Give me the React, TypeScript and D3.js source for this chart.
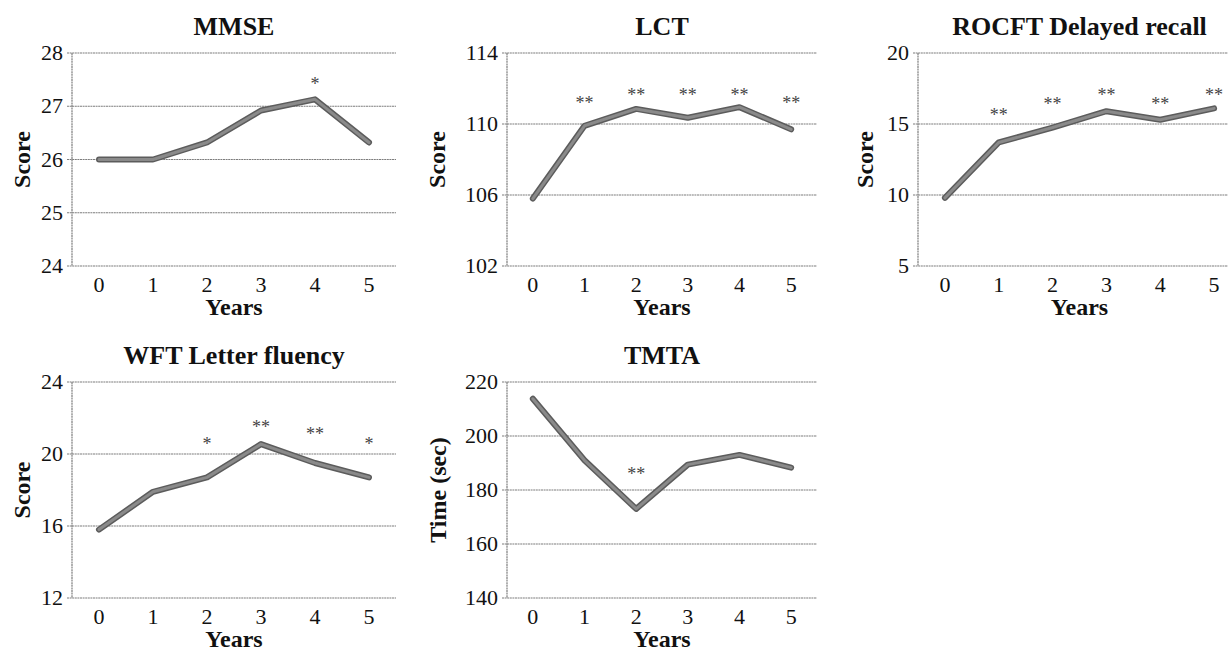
import React, { useEffect, useRef } from "react";
import * as d3 from "d3";

// years on the x axis, shared by all panels
const years = [0, 1, 2, 3, 4, 5];

const mmseValues = [26.0, 26.0, 26.32, 26.92, 27.13, 26.32];
const mmseTicks = [24, 25, 26, 27, 28];
const mmseSig = ["", "", "", "", "*", ""];
const mmseSigLevel = [0, 0, 0, 0, 27.49, 0];

const lctValues = [105.8, 109.9, 110.85, 110.35, 110.95, 109.7];
const lctTicks = [102, 106, 110, 114];
const lctSig = ["", "**", "**", "**", "**", "**"];
const lctSigLevel = [0, 111.4, 111.85, 111.85, 111.85, 111.4];

const rocftValues = [9.8, 13.7, 14.75, 15.9, 15.3, 16.1];
const rocftTicks = [5, 10, 15, 20];
const rocftSig = ["", "**", "**", "**", "**", "**"];
const rocftSigLevel = [0, 15.95, 16.7, 17.3, 16.7, 17.3];

const wftValues = [15.8, 17.9, 18.7, 20.55, 19.5, 18.7];
const wftTicks = [12, 16, 20, 24];
const wftSig = ["", "", "*", "**", "**", "*"];
const wftSigLevel = [0, 0, 20.77, 21.7, 21.32, 20.77];

const tmtaValues = [213.8, 191.0, 173.0, 189.4, 193.0, 188.3];
const tmtaTicks = [140, 160, 180, 200, 220];
const tmtaSig = ["", "", "**", "", "", ""];
const tmtaSigLevel = [0, 0, 187.4, 0, 0, 0];

const panels = [
  { title: "MMSE", yLabel: "Score", values: mmseValues, ticks: mmseTicks, sig: mmseSig, sigLevel: mmseSigLevel, left: 72, right: 396, top: 53, bottom: 266, labelX: 30 },
  { title: "LCT", yLabel: "Score", values: lctValues, ticks: lctTicks, sig: lctSig, sigLevel: lctSigLevel, left: 507, right: 817, top: 53, bottom: 266, labelX: 445 },
  { title: "ROCFT Delayed recall", yLabel: "Score", values: rocftValues, ticks: rocftTicks, sig: rocftSig, sigLevel: rocftSigLevel, left: 918, right: 1241, top: 53, bottom: 266, labelX: 873 },
  { title: "WFT Letter fluency", yLabel: "Score", values: wftValues, ticks: wftTicks, sig: wftSig, sigLevel: wftSigLevel, left: 72, right: 396, top: 382, bottom: 598, labelX: 30 },
  { title: "TMTA", yLabel: "Time (sec)", values: tmtaValues, ticks: tmtaTicks, sig: tmtaSig, sigLevel: tmtaSigLevel, left: 507, right: 817, top: 382, bottom: 598, labelX: 446 },
];

const FONT = "Liberation Serif";
const gridColor = "#7d7d7d";

export default function App() {
  const ref = useRef<SVGSVGElement>(null);

  useEffect(() => {
    const svg = d3.select(ref.current);
    svg.selectAll("*").remove();
    svg.append("rect").attr("width", 1228).attr("height", 651).attr("fill", "#fff");

    panels.forEach((p) => {
      const x = d3.scalePoint<number>().domain(years).range([p.left, p.right]).padding(0.5);
      const y = d3
        .scaleLinear()
        .domain([p.ticks[0], p.ticks[p.ticks.length - 1]])
        .range([p.bottom, p.top]);
      const g = svg.append("g");
      const midX = (p.left + p.right) / 2;
      const midY = (p.top + p.bottom) / 2;

      // gridlines with small tick stubs left of the axis
      g.selectAll(".grid")
        .data(p.ticks)
        .enter()
        .append("line")
        .attr("x1", p.left - 5)
        .attr("x2", p.right)
        .attr("y1", (t) => y(t))
        .attr("y2", (t) => y(t))
        .attr("stroke", gridColor)
        .attr("stroke-width", 1.2)
        .attr("stroke-dasharray", "2,0.6");

      g.append("line")
        .attr("x1", p.left)
        .attr("x2", p.left)
        .attr("y1", p.top)
        .attr("y2", p.bottom)
        .attr("stroke", gridColor)
        .attr("stroke-width", 1.2)
        .attr("stroke-dasharray", "2,0.6");

      g.selectAll(".ytick")
        .data(p.ticks)
        .enter()
        .append("text")
        .attr("x", p.left - 9)
        .attr("y", (t) => y(t) + 7)
        .attr("text-anchor", "end")
        .attr("font-family", FONT)
        .attr("font-size", 22)
        .attr("fill", "#111")
        .text((t) => String(t));

      g.selectAll(".xtick")
        .data(years)
        .enter()
        .append("text")
        .attr("x", (d) => x(d) as number)
        .attr("y", p.bottom + 26)
        .attr("text-anchor", "middle")
        .attr("font-family", FONT)
        .attr("font-size", 22)
        .attr("fill", "#111")
        .text((d) => String(d));

      const line = d3
        .line<number>()
        .x((d, i) => x(years[i]) as number)
        .y((d) => y(d));

      g.append("path")
        .attr("d", line(p.values) || "")
        .attr("fill", "none")
        .attr("stroke", "#5c5c5c")
        .attr("stroke-width", 6)
        .attr("stroke-linejoin", "round")
        .attr("stroke-linecap", "round");
      g.append("path")
        .attr("d", line(p.values) || "")
        .attr("fill", "none")
        .attr("stroke", "#8a8a8a")
        .attr("stroke-width", 3)
        .attr("stroke-linejoin", "round")
        .attr("stroke-linecap", "round");

      const sigIdx = years.map((d, i) => i).filter((i) => p.sig[i]);
      g.selectAll(".sig")
        .data(sigIdx)
        .enter()
        .append("text")
        .attr("x", (i) => x(years[i]) as number)
        .attr("y", (i) => y(p.sigLevel[i]) + 10)
        .attr("text-anchor", "middle")
        .attr("font-family", FONT)
        .attr("font-size", 18)
        .attr("fill", "#444")
        .text((i) => p.sig[i]);

      g.append("text")
        .attr("x", midX)
        .attr("y", p.top - 18)
        .attr("text-anchor", "middle")
        .attr("font-family", FONT)
        .attr("font-size", 26)
        .attr("font-weight", "bold")
        .attr("fill", "#111")
        .text(p.title);

      g.append("text")
        .attr("x", midX)
        .attr("y", p.bottom + 49)
        .attr("text-anchor", "middle")
        .attr("font-family", FONT)
        .attr("font-size", 24)
        .attr("font-weight", "bold")
        .attr("fill", "#111")
        .text("Years");

      g.append("text")
        .attr("transform", `translate(${p.labelX},${midY}) rotate(-90)`)
        .attr("text-anchor", "middle")
        .attr("font-family", FONT)
        .attr("font-size", 24)
        .attr("font-weight", "bold")
        .attr("fill", "#111")
        .text(p.yLabel);
    });
  }, []);

  return <svg ref={ref} width={1228} height={651} style={{ position: "absolute", left: 0, top: 0 }} />;
}
